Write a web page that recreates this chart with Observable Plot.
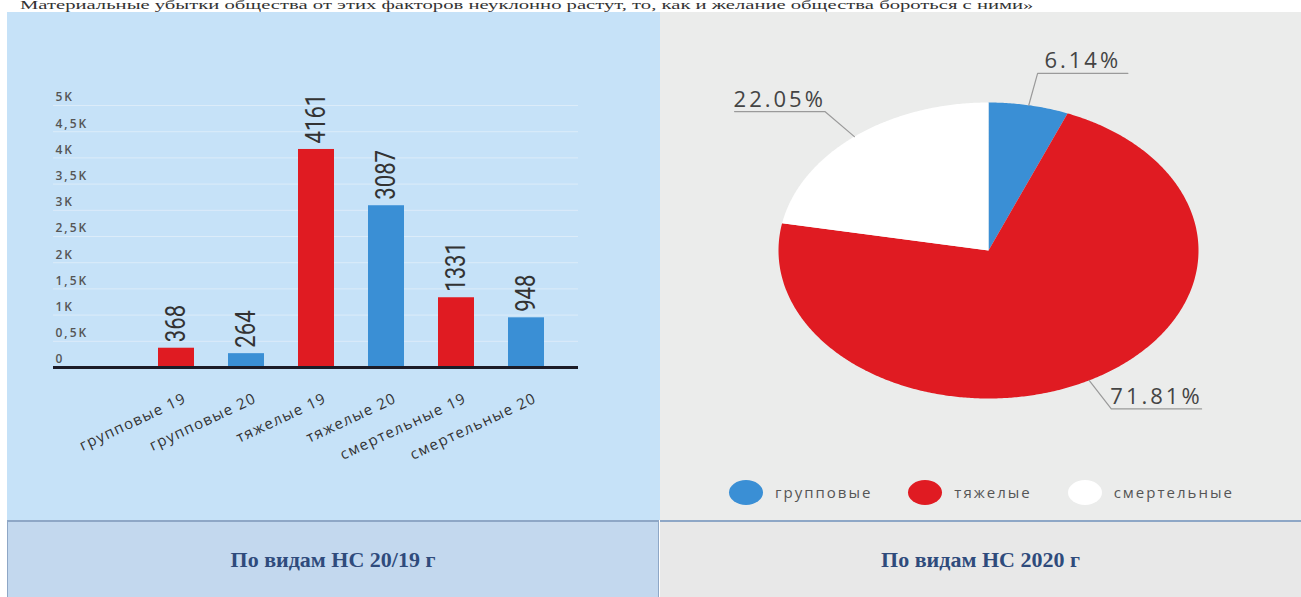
<!DOCTYPE html>
<html><head><meta charset="utf-8">
<script src="https://cdn.jsdelivr.net/npm/d3@7"></script>
<script src="https://cdn.jsdelivr.net/npm/@observablehq/plot@0.6"></script>
<style>
html,body{margin:0;padding:0;background:#fff;width:1301px;height:597px;overflow:hidden;position:relative;font-family:"Open Sans",sans-serif}
.abs{position:absolute}
#topline{left:20px;top:-1px;font-family:"Liberation Serif",serif;font-size:12px;line-height:12px;color:#333;white-space:nowrap;transform:scaleX(1.72);transform-origin:0 0}
#leftPanel{left:7px;top:12px;width:653px;height:508px;background:#c6e2f8}
#rightPanel{left:660px;top:12px;width:641px;height:508px;background:#ebeceb}
#capL{left:7px;top:520px;width:652px;height:77px;background:#c3d8ee;border-top:2px solid #8ea7c6;border-left:1px solid #8ea7c6;border-right:1px solid #8ea7c6;box-sizing:border-box}
#capR{left:660px;top:520px;width:641px;height:77px;background:#e8e8e8;border-top:2px solid #8ea7c6;box-sizing:border-box}
.cap{display:flex;align-items:center;justify-content:center;font-family:"Liberation Serif",serif;font-weight:bold;font-size:22px;color:#2f4b7c}
#barBox{left:7px;top:12px;width:653px;height:506px}
#pieBox{left:660px;top:12px;width:641px;height:455px}
#legend{left:729px;top:478px;height:28px;display:flex;align-items:center;font-family:"Open Sans",sans-serif;font-size:15px;color:#555;letter-spacing:2px}
.sw{width:34px;height:25px;border-radius:50%;display:inline-block;margin-right:12px}
.item{display:flex;align-items:center;margin-right:36px}
</style></head>
<body>
<div id="topline" class="abs">Материальные убытки общества от этих факторов неуклонно растут, то, как и желание общества бороться с ними»</div>
<div id="leftPanel" class="abs"></div>
<div id="rightPanel" class="abs"></div>
<div id="barBox" class="abs"></div>
<div id="pieBox" class="abs"></div>
<div id="legend" class="abs"></div>
<div id="capL" class="abs cap">По видам НС 20/19 г</div>
<div id="capR" class="abs cap">По видам НС 2020 г</div>
<script>
// ---- data ----
const barCats = ["групповые 19","групповые 20","тяжелые 19","тяжелые 20","смертельные 19","смертельные 20"];
const barValues = [368, 264, 4161, 3087, 1331, 948];
const barYear = ["19","20","19","20","19","20"];
const yTicks = [0,500,1000,1500,2000,2500,3000,3500,4000,4500,5000];
const yTickLabels = ["0","0,5K","1K","1,5K","2K","2,5K","3K","3,5K","4K","4,5K","5K"];

const pieCats = ["групповые","тяжелые","смертельные"];
const piePct = [6.14, 71.81, 22.05];
const pieLabels = ["6.14%","71.81%","22.05%"];

const RED = "#e01b22", BLUE = "#3a8fd5", WHITE = "#ffffff";

// ---- bar chart ----
const bars = barCats.map((c,i)=>({cat:c, value:barValues[i], year:barYear[i]}));
const barSvg = Plot.plot({
  width:653, height:506, marginTop:93, marginBottom:151, marginLeft:46, marginRight:82,
  style:{background:"transparent", overflow:"visible"},
  x:{domain:barCats, range:[131.6,556.4], paddingInner:0.49, paddingOuter:0.245, axis:null},
  y:{domain:[0,5000], axis:null},
  color:{domain:["19","20"], range:[RED, BLUE]},
  marks:[
    Plot.ruleY(yTicks,{stroke:"#dcecf9", strokeWidth:1}),
    Plot.text(yTicks,{y:d=>d, text:(d,i)=>yTickLabels[i], frameAnchor:"left", dx:2, dy:-8, textAnchor:"start", fill:"#555", fontSize:12, fontWeight:600, fontFamily:"Open Sans"}),
    Plot.barY(bars,{x:"cat", y:"value", fill:"year"}),
    Plot.ruleY([0],{stroke:"#1c1c28", strokeWidth:3}),
    Plot.text(bars,{x:"cat", y:"value", text:d=>String(d.value), rotate:-90, textAnchor:"start", dy:-6, fill:"#333", fontSize:27, fontFamily:"Roboto"}),
    Plot.text(bars,{x:"cat", y:0, text:"cat", rotate:-25, textAnchor:"end", dx:9, dy:30, fill:"#333", fontSize:15, fontFamily:"Open Sans"})
  ]
});
document.getElementById("barBox").appendChild(barSvg);
const tg = barSvg.querySelectorAll('g[aria-label="text"]');
if (tg[0]) tg[0].style.letterSpacing = "2px";
if (tg[1]) tg[1].querySelectorAll("text").forEach(t=>{
  t.setAttribute("transform", t.getAttribute("transform") + " scale(0.82,1)");
});
if (tg[2]) tg[2].style.letterSpacing = "1.3px";

// ---- pie chart ----
const arcs = d3.pie().sort(null).startAngle(0).endAngle(2*Math.PI)(piePct);
const pts = [];
arcs.forEach((a,i)=>{
  const n = Math.max(2, Math.ceil((a.endAngle-a.startAngle)/(Math.PI/360)));
  pts.push({cat:pieCats[i], u:0, v:0});
  for (let k=0;k<=n;k++){
    const t = a.startAngle + (a.endAngle-a.startAngle)*k/n;
    pts.push({cat:pieCats[i], u:Math.sin(t), v:Math.cos(t)});
  }
  pts.push({cat:pieCats[i], u:0, v:0});
});
const leaderPts = [], labelPts = [];
arcs.forEach((a,i)=>{
  const m = (a.startAngle+a.endAngle)/2, s = Math.sin(m), c = Math.cos(m);
  const dir = s >= 0 ? 1 : -1;
  const ex = 1.22*s, ey = 1.22*c, hx = ex + dir*0.43;
  leaderPts.push({k:i, u:s, v:c},{k:i, u:ex, v:ey},{k:i, u:hx, v:ey});
  labelPts.push({u:(ex+hx)/2, v:ey, label:pieLabels[i]});
});
const pieSvg = Plot.plot({
  width:641, height:455, margin:0,
  style:{background:"transparent", overflow:"visible"},
  x:{domain:[-1,1], range:[118,538], axis:null},
  y:{domain:[-1,1], range:[386,90], axis:null},
  color:{domain:pieCats, range:[BLUE, RED, WHITE]},
  marks:[
    Plot.line(pts,{x:"u", y:"v", z:"cat", fill:"cat", stroke:"none", curve:"linear"}),
    Plot.line(leaderPts,{x:"u", y:"v", z:"k", stroke:"#9a9a9a", strokeWidth:1.2}),
    Plot.text(labelPts,{x:"u", y:"v", text:"label", lineAnchor:"bottom", dy:-5, fill:"#444", fontSize:22, fontFamily:"Open Sans"})
  ]
});
document.getElementById("pieBox").appendChild(pieSvg);
const pg = pieSvg.querySelectorAll('g[aria-label="text"]');
if (pg[0]) pg[0].style.letterSpacing = "3px";

// ---- legend ----
const leg = document.getElementById("legend");
const legColors = [BLUE, RED, WHITE];
pieCats.forEach((c,i)=>{
  const it = document.createElement("div"); it.className = "item";
  const sw = document.createElement("span"); sw.className = "sw"; sw.style.background = legColors[i];
  const tx = document.createElement("span"); tx.textContent = c;
  it.appendChild(sw); it.appendChild(tx); leg.appendChild(it);
});
</script>
</body></html>
